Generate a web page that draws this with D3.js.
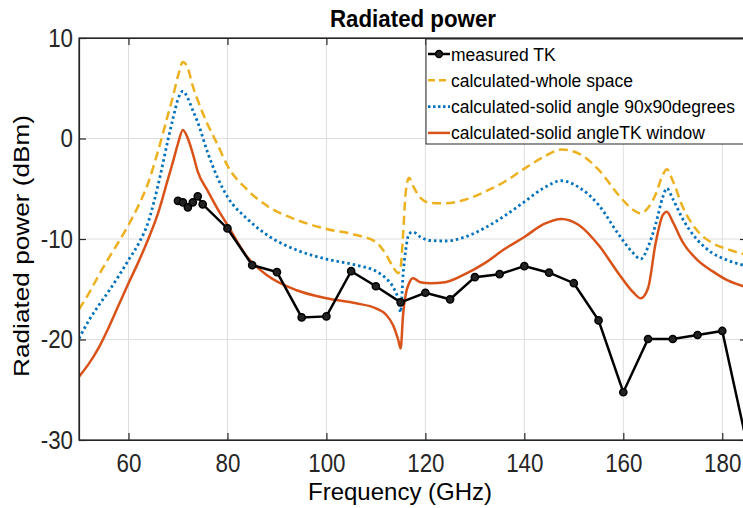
<!DOCTYPE html>
<html>
<head>
<meta charset="utf-8">
<script src="https://cdn.jsdelivr.net/npm/d3@7"></script>
<style>
  body { margin: 0; background: #fff; }
  svg { display: block; font-family: "Liberation Sans", Arial, sans-serif; }
</style>
</head>
<body>
<div id="chart"></div>
<script>
'use strict';

// frequency grid of the calculated curves (GHz)
const freqCalc = [50, 52, 54, 56, 58, 60, 62, 64, 66, 68, 69, 70, 71, 72, 73, 74, 76, 78, 80, 84, 88, 94, 100, 106, 110, 112, 113.5, 114.5, 115, 115.5, 116, 116.7, 117.5, 119, 121, 124, 128, 132, 136, 140, 144, 147.5, 151, 155, 159, 162, 163.5, 165, 166.5, 168, 168.8, 170, 172, 175, 178, 181, 185];

// calculated-whole space (dBm)
const wholeSpace = [-17.0, -15.4, -13.6, -11.9, -10.3, -8.6, -6.7, -4.4, -1.2, 2.4, 4.2, 6.2, 7.6, 7.0, 5.2, 3.8, 1.4, -0.6, -2.7, -5.1, -6.7, -8.1, -9.0, -9.6, -10.3, -11.5, -12.8, -13.4, -12.8, -9.5, -5.5, -3.9, -4.7, -5.9, -6.4, -6.45, -6.1, -5.3, -4.3, -3.0, -1.8, -1.1, -1.5, -3.1, -5.6, -7.1, -7.45, -6.9, -5.6, -3.6, -3.07, -4.2, -6.8, -9.2, -10.4, -11.0, -11.6];

// calculated-solid angle 90x90degrees (dBm)
const solid90 = [-19.9, -18.1, -16.6, -15.2, -13.7, -12.1, -10.5, -8.3, -4.6, -0.1, 2.0, 3.9, 4.7, 4.0, 2.8, 1.6, -1.4, -3.9, -5.8, -8.0, -9.6, -11.1, -12.0, -12.6, -13.2, -13.9, -14.8, -16.0, -17.3, -13.5, -11.2, -9.5, -9.3, -9.8, -10.15, -10.2, -9.8, -8.9, -7.7, -6.3, -4.9, -4.2, -4.85, -6.6, -9.5, -11.4, -12.0, -10.8, -8.6, -5.8, -4.95, -6.0, -8.0, -10.1, -11.4, -12.1, -12.7];

// calculated-solid angleTK window (dBm)
const solidTK = [-23.7, -22.4, -20.8, -18.8, -16.6, -14.4, -12.3, -10.0, -7.4, -4.0, -2.3, -0.5, 0.85, 0.0, -1.5, -3.3, -5.2, -7.0, -8.6, -11.8, -13.6, -15.1, -15.9, -16.4, -16.9, -17.5, -18.6, -20.0, -20.9, -17.5, -15.6, -14.4, -13.9, -14.3, -14.4, -14.3, -13.5, -12.4, -11.0, -9.8, -8.5, -8.0, -8.6, -10.6, -13.4, -15.3, -15.9, -14.9, -10.5, -7.6, -7.28, -8.3, -10.3, -12.1, -13.2, -14.1, -14.8];

// measured TK
const freqMeas = [70, 71, 72, 73, 74, 75, 80, 85, 90, 95, 100, 105, 110, 115, 120, 125, 130, 135, 140, 145, 150, 155, 160, 165, 170, 175, 180, 185];
const measured = [-6.2, -6.35, -6.85, -6.35, -5.75, -6.55, -8.95, -12.6, -13.3, -17.8, -17.7, -13.2, -14.7, -16.3, -15.35, -16.0, -13.8, -13.5, -12.7, -13.35, -14.4, -18.1, -25.25, -19.95, -19.95, -19.55, -19.15, -30.4];

const xTicks = [60, 80, 100, 120, 140, 160, 180];
const yTicks = [-30, -20, -10, 0, 10];
const legendLabels = ['measured TK', 'calculated-whole space', 'calculated-solid angle 90x90degrees', 'calculated-solid angleTK window'];

const W = 743, H = 508;
const margin = {left: 79, top: 38, bottom: 68};
const plotW = 668, plotH = H - margin.top - margin.bottom;
const axisCol = '#262626';

const svg = d3.select('#chart').append('svg')
    .attr('width', W).attr('height', H);

const x = d3.scaleLinear().domain([50, 185]).range([0, plotW]);
const y = d3.scaleLinear().domain([-30, 10]).range([plotH, 0]);

const g = svg.append('g')
    .attr('transform', 'translate(' + margin.left + ',' + margin.top + ')');

svg.append('defs').append('clipPath').attr('id', 'clip')
  .append('rect').attr('width', plotW).attr('height', plotH);

// grid
g.append('g').selectAll('line').data(xTicks).enter().append('line')
    .attr('x1', d => x(d)).attr('x2', d => x(d))
    .attr('y1', 0).attr('y2', plotH)
    .attr('stroke', '#dedede').attr('stroke-width', 1);
g.append('g').selectAll('line').data(yTicks).enter().append('line')
    .attr('x1', 0).attr('x2', plotW)
    .attr('y1', d => y(d)).attr('y2', d => y(d))
    .attr('stroke', '#dedede').attr('stroke-width', 1);

// curves
const line = d3.line()
    .x(d => x(d[0])).y(d => y(d[1]))
    .curve(d3.curveMonotoneX);
const series = [
    {vals: wholeSpace, color: '#EDB120', dash: '9,5', width: 2.5},
    {vals: solid90, color: '#0072BD', dash: '2.5,3', width: 2.8},
    {vals: solidTK, color: '#D95319', dash: null, width: 2.5}
];
const curves = g.append('g').attr('clip-path', 'url(#clip)');
series.forEach(function(s){
    curves.append('path')
        .datum(freqCalc.map((f, i) => [f, s.vals[i]]))
        .attr('d', line)
        .attr('fill', 'none')
        .attr('stroke', s.color)
        .attr('stroke-width', s.width)
        .attr('stroke-dasharray', s.dash);
});

const meas = freqMeas.map((f, i) => [f, measured[i]]);
curves.append('path')
    .datum(meas)
    .attr('d', d3.line().x(d => x(d[0])).y(d => y(d[1])))
    .attr('fill', 'none')
    .attr('stroke', '#000')
    .attr('stroke-width', 2.5);
curves.selectAll('circle.m').data(meas).enter().append('circle')
    .attr('class', 'm')
    .attr('cx', d => x(d[0])).attr('cy', d => y(d[1]))
    .attr('r', 3.6)
    .attr('fill', '#222').attr('stroke', '#000').attr('stroke-width', 1.5);

// axes (plain hyphen for negatives, as in the original)
const fmt = d => String(d);
const xAxis = g.append('g')
    .attr('transform', 'translate(0,' + plotH + ')')
    .call(d3.axisBottom(x).tickValues(xTicks).tickFormat(fmt).tickSizeInner(-7).tickSizeOuter(0).tickPadding(14));
const yAxis = g.append('g')
    .call(d3.axisLeft(y).tickValues(yTicks).tickFormat(fmt).tickSizeInner(-7).tickSizeOuter(0).tickPadding(6));
g.append('g')
    .call(d3.axisBottom(x).tickValues(xTicks).tickSizeInner(7).tickSizeOuter(0).tickFormat(''));
g.append('g')
    .attr('transform', 'translate(' + plotW + ',0)')
    .call(d3.axisLeft(y).tickValues(yTicks).tickSizeInner(7).tickSizeOuter(0).tickFormat(''));

[xAxis, yAxis].forEach(function(a){
    a.selectAll('text')
        .attr('fill', axisCol)
        .attr('font-size', 26)
        .attr('font-family', '"Liberation Sans", Arial, sans-serif');
});
xAxis.selectAll('text').attr('transform', 'scale(0.86,1)');
yAxis.selectAll('text').attr('x', -6 / 0.86).attr('transform', 'scale(0.86,1)');
g.selectAll('.domain').attr('stroke', axisCol).attr('stroke-width', 1.2);
g.selectAll('.tick line').attr('stroke', axisCol).attr('stroke-width', 1.2);

// box
g.append('rect')
    .attr('width', plotW).attr('height', plotH)
    .attr('fill', 'none').attr('stroke', axisCol).attr('stroke-width', 1.2);

// title and labels
svg.append('text')
    .attr('transform', 'translate(413,27) scale(0.93,1)')
    .attr('text-anchor', 'middle')
    .attr('font-weight', 'bold').attr('font-size', 24)
    .attr('fill', '#000')
    .text('Radiated power');
svg.append('text')
    .attr('transform', 'translate(400,500)')
    .attr('text-anchor', 'middle')
    .attr('font-size', 24)
    .attr('fill', '#000')
    .text('Frequency (GHz)');
svg.append('text')
    .attr('transform', 'translate(29,246) rotate(-90) scale(1.19,1)')
    .attr('text-anchor', 'middle')
    .attr('font-size', 22)
    .attr('fill', '#000')
    .text('Radiated power (dBm)');

// legend
const lg = svg.append('g').attr('transform', 'translate(426,39)');
lg.append('rect')
    .attr('width', 330).attr('height', 105)
    .attr('fill', '#fff').attr('stroke', axisCol).attr('stroke-width', 1);
const legendStyle = [
    {color: '#000', dash: null, width: 2.5, marker: true},
    {color: '#EDB120', dash: '7,4', width: 2.5},
    {color: '#0072BD', dash: '2.5,2.5', width: 2.8},
    {color: '#D95319', dash: null, width: 2.5}
];
legendLabels.forEach(function(lab, i){
    const cy = 15 + i * 26.3;
    const st = legendStyle[i];
    lg.append('line')
        .attr('x1', 2).attr('x2', 24).attr('y1', cy).attr('y2', cy)
        .attr('stroke', st.color).attr('stroke-width', st.width)
        .attr('stroke-dasharray', st.dash);
    if(st.marker){
        lg.append('circle').attr('cx', 13).attr('cy', cy).attr('r', 3.4)
            .attr('fill', '#222').attr('stroke', '#000').attr('stroke-width', 1.5);
    }
    lg.append('text')
        .attr('x', 25).attr('y', cy + 6.5)
        .attr('font-size', 17.5)
        .attr('fill', '#000')
        .text(lab);
});
</script>
</body>
</html>
